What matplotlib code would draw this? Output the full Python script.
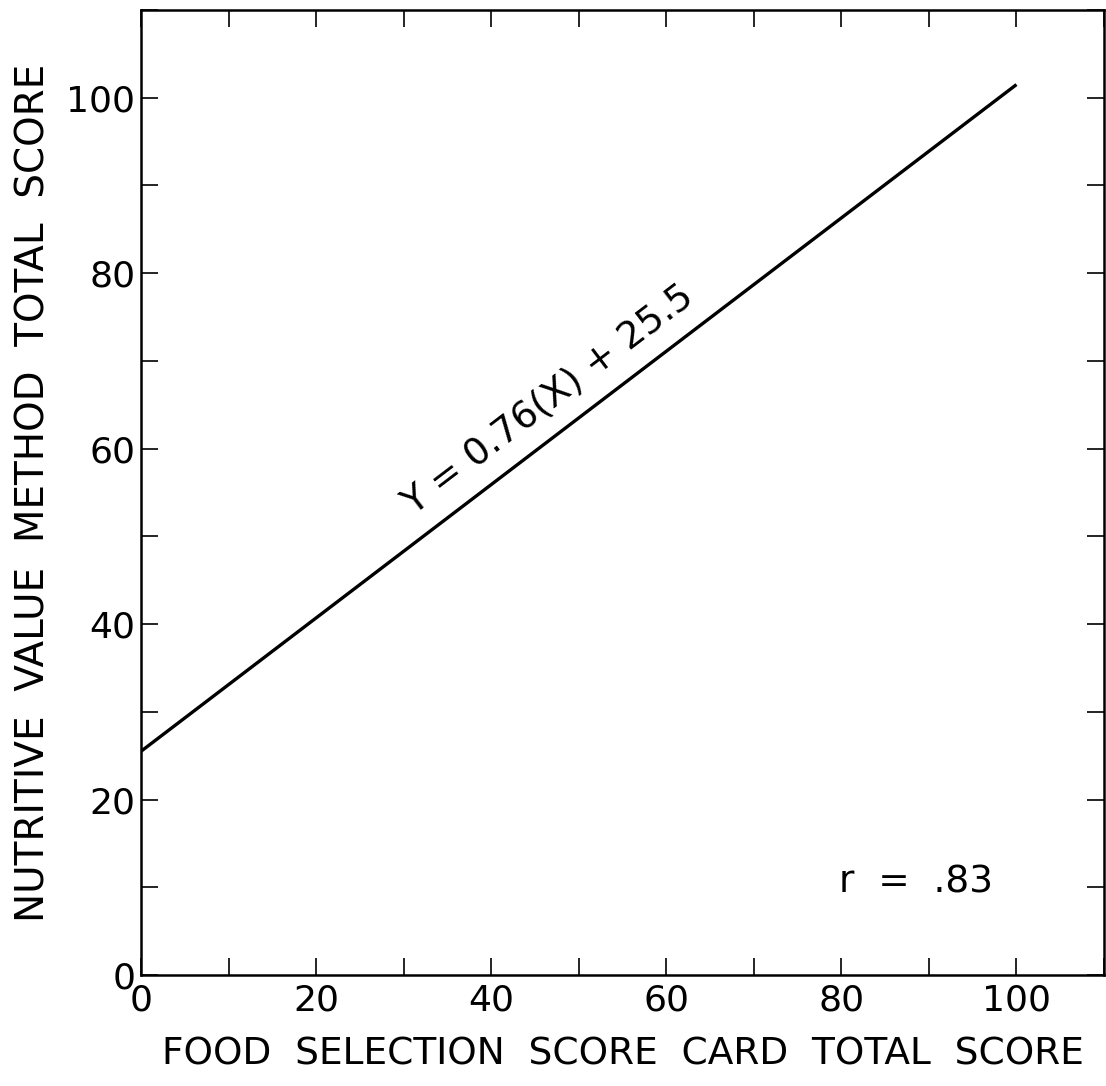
import matplotlib

matplotlib.use('Agg')
import numpy as np
import matplotlib.pyplot as plt

# Regression line data
slope = 0.76
intercept = 25.5
x_line = np.array([0, 100])
y_line = slope * x_line + intercept

x_ticks = [0, 20, 40, 60, 80, 100]
y_ticks = [0, 20, 40, 60, 80, 100]
minor_ticks = np.arange(0, 111, 10)

plt.rcParams['font.family'] = ['DejaVu Sans']

fig = plt.figure(figsize=(11.06, 10.86), dpi=100)
ax = fig.add_axes([0.1275, 0.1022, 0.8707, 0.8886])

ax.plot(x_line, y_line, color='black', linewidth=2.4, solid_capstyle='butt')

ax.set_xlim(0, 110)
ax.set_ylim(0, 110)
ax.set_xticks(x_ticks)
ax.set_yticks(y_ticks)
ax.set_xticks(minor_ticks, minor=True)
ax.set_yticks(minor_ticks, minor=True)
ax.tick_params(which='both', direction='in', length=12, width=1.2,
               top=True, right=True, labelsize=26)
ax.tick_params(axis='y', pad=4)
ax.tick_params(axis='x', pad=6)

for s in ax.spines.values():
    s.set_linewidth(1.8)

ax.set_xlabel("FOOD  SELECTION  SCORE  CARD  TOTAL  SCORE", fontsize=27, labelpad=14)
ax.set_ylabel("NUTRITIVE  VALUE  METHOD  TOTAL  SCORE", fontsize=28, labelpad=10)

ax.text(46.5, 65.5, "Y = 0.76(X) + 25.5", fontsize=27, rotation=37.3,
        rotation_mode='anchor', ha='center', va='center')
ax.text(88.5, 10.5, "r  =  .83", fontsize=27, ha='center', va='center')

plt.savefig("out.png", dpi=100)
